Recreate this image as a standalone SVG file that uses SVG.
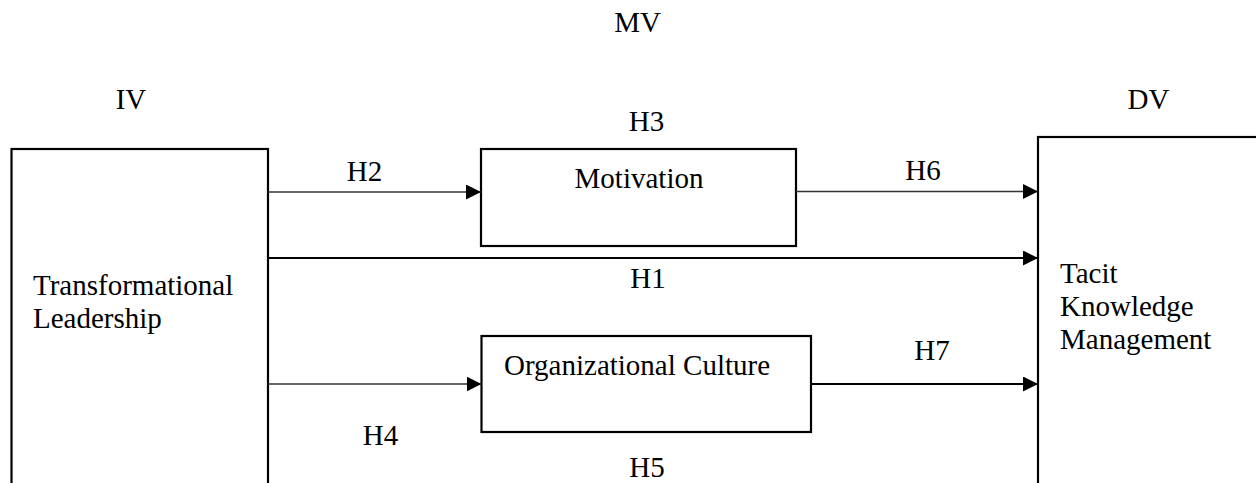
<svg xmlns="http://www.w3.org/2000/svg" width="1256" height="483" viewBox="0 0 1256 483">
<style>
text{font-family:"Liberation Serif","Times New Roman",serif;font-size:29px;fill:#000}
.m{text-anchor:middle}
.box{fill:#fff;stroke:#000;stroke-width:2.2}
.c{fill:none;stroke:#000;stroke-width:2}
.t{fill:none;stroke:#333;stroke-width:1.6}
</style>
<defs>
<marker id="ah" markerUnits="userSpaceOnUse" markerWidth="16" markerHeight="16" refX="15" refY="7.5" orient="auto">
<path d="M0,0 L15,7.5 L0,15 z" fill="#000"/>
</marker>
</defs>
<rect width="1256" height="483" fill="#fff"/>
<text class="m" x="637.5" y="32">MV</text>
<text class="m" x="131" y="109">IV</text>
<text class="m" x="1148.5" y="109">DV</text>
<text class="m" x="646.5" y="131">H3</text>
<g id="node-tl">
<rect class="box" x="11.5" y="149" width="256.5" height="350"/>
<text x="33" y="295">Transformational</text>
<text x="33" y="328">Leadership</text>
</g>
<g id="node-mot">
<rect class="box" x="481" y="149" width="315" height="97"/>
<text class="m" x="639" y="188">Motivation</text>
</g>
<g id="node-oc">
<rect class="box" x="481.5" y="336" width="329.5" height="96"/>
<text x="504" y="375">Organizational Culture</text>
</g>
<g id="node-tkm">
<rect class="box" x="1038" y="137" width="240" height="370"/>
<text x="1060" y="283">Tacit</text>
<text x="1060" y="316">Knowledge</text>
<text x="1060" y="349">Management</text>
</g>
<g id="connectors">
<line class="t" x1="268" y1="192" x2="481" y2="192" marker-end="url(#ah)"/>
<line class="t" x1="796" y1="191.5" x2="1038" y2="191.5" marker-end="url(#ah)"/>
<line class="c" x1="268" y1="258" x2="1038" y2="258" marker-end="url(#ah)"/>
<line class="t" x1="268" y1="384" x2="481.5" y2="384" marker-end="url(#ah)"/>
<line class="c" x1="811" y1="384" x2="1038" y2="384" marker-end="url(#ah)"/>
</g>
<g id="labels">
<text class="m" x="364.5" y="181">H2</text>
<text class="m" x="923" y="179.5">H6</text>
<text class="m" x="648" y="288">H1</text>
<text class="m" x="932" y="360">H7</text>
<text class="m" x="380.5" y="445">H4</text>
<text class="m" x="647" y="477">H5</text>
</g>
</svg>
